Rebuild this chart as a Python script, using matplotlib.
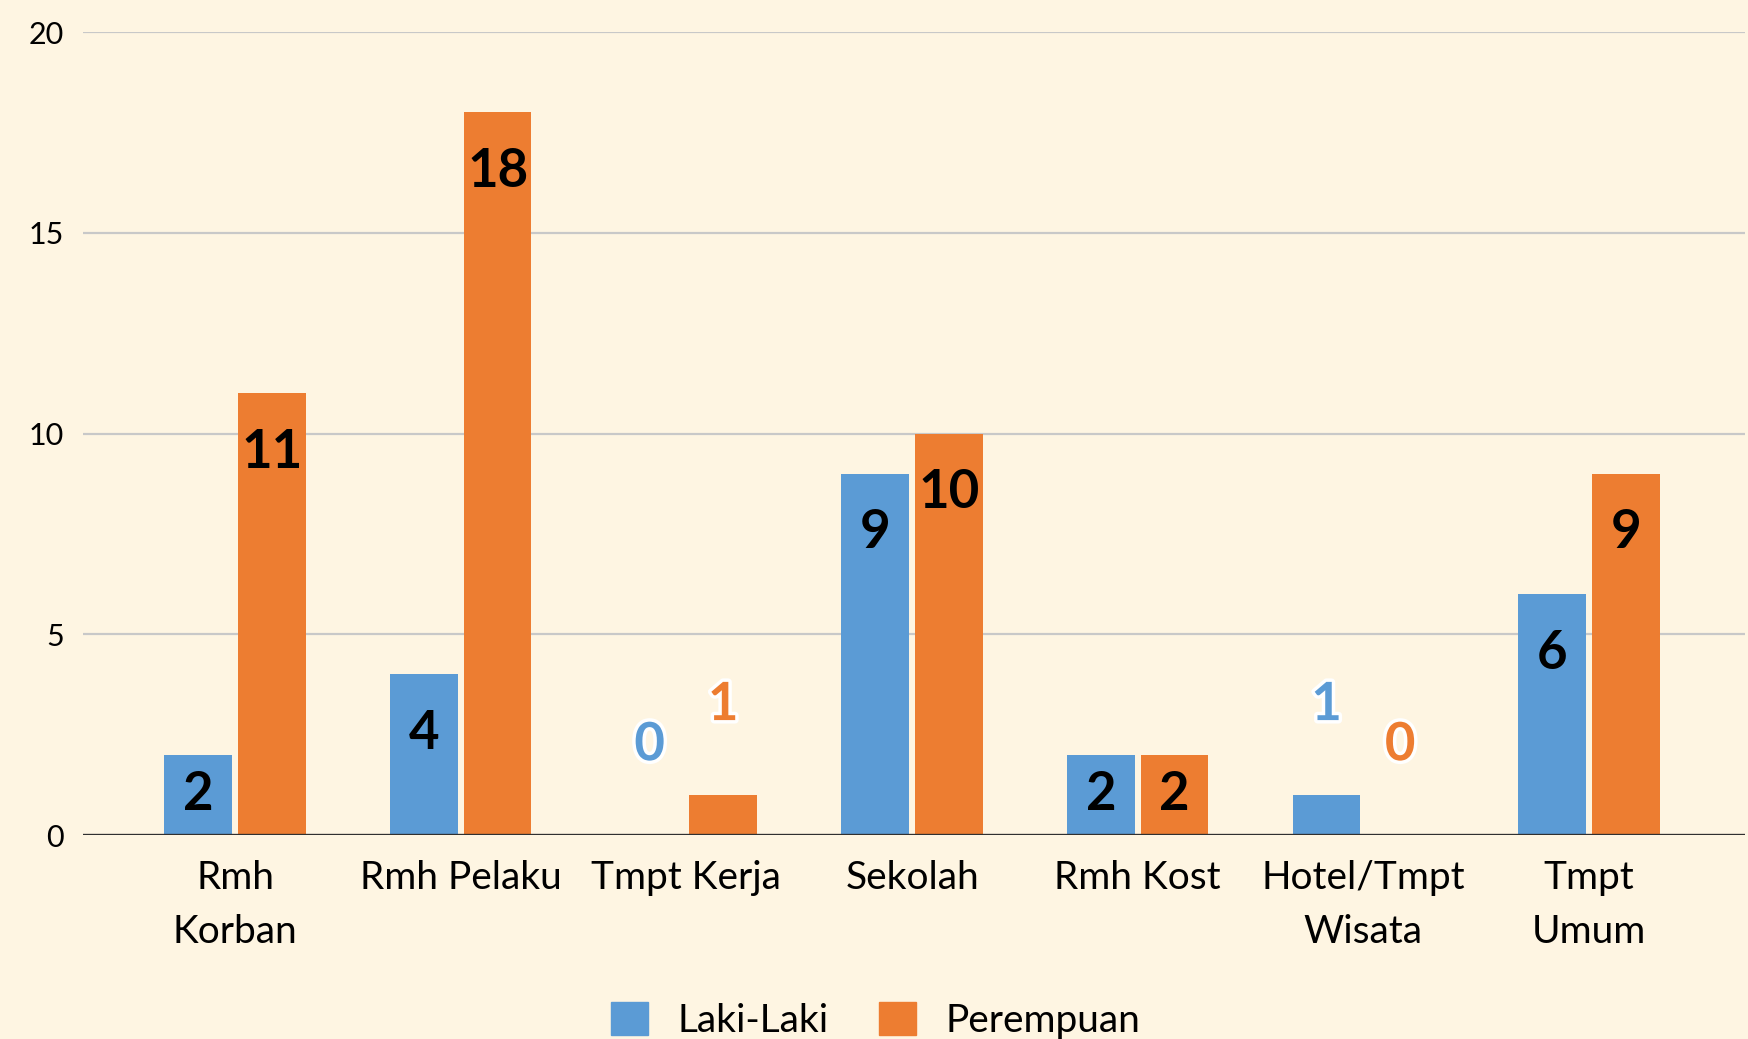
import matplotlib
matplotlib.use("Agg")
import matplotlib.pyplot as plt
import matplotlib.patheffects as pe
from matplotlib.patches import Patch
import numpy as np

categories = ["Rmh\nKorban", "Rmh Pelaku", "Tmpt Kerja", "Sekolah", "Rmh Kost", "Hotel/Tmpt\nWisata", "Tmpt\nUmum"]
laki = [2, 4, 0, 9, 2, 1, 6]
perempuan = [11, 18, 1, 10, 2, 0, 9]
series_names = ["Laki-Laki", "Perempuan"]
yticks = [0, 5, 10, 15, 20]

BG = "#FEF5E2"
BLUE = "#5B9BD5"
ORANGE = "#ED7D31"

plt.rcParams['font.family'] = ['Lato', 'DejaVu Sans']

fig = plt.figure(figsize=(17.48, 10.39), dpi=100, facecolor=BG)
ax = fig.add_axes([0.0475, 0.1963, 0.9505, 0.7727])
ax.set_facecolor(BG)

x = np.arange(len(categories))
w = 0.30
off = 0.163
bars_l = ax.bar(x - off, laki, width=w, color=BLUE, zorder=3)
bars_p = ax.bar(x + off, perempuan, width=w, color=ORANGE, zorder=3)

ax.set_ylim(0, 20)
ax.set_xlim(-0.674, 6.689)
ax.set_yticks(yticks)
ax.set_yticklabels([str(t) for t in yticks], fontsize=22)
ax.tick_params(axis='y', length=0, pad=14)
ax.set_xticks(x)
ax.set_xticklabels(categories, fontsize=28, linespacing=1.62)
ax.tick_params(axis='x', length=0, pad=18)
for t in ax.get_xticklabels():
    t.set_verticalalignment('top')

for yv in yticks[1:]:
    ax.axhline(yv, color="#C8C8C8", lw=1.6, zorder=1)
ax.axhline(0, color="#303030", lw=2.4, zorder=4)
for s in ax.spines.values():
    s.set_visible(False)

def label(xpos, v, color):
    if v >= 2:
        y = max(v - 1.47, v / 2)
        ax.text(xpos, y, str(v), ha='center', va='center', fontsize=38,
                fontweight='bold', color='black', zorder=5)
    else:
        y = v + 2.25
        ax.text(xpos, y, str(v), ha='center', va='center', fontsize=38,
                fontweight='bold', color=color, zorder=5,
                path_effects=[pe.withStroke(linewidth=5, foreground='white')])

for i in range(len(categories)):
    label(x[i] - off, laki[i], BLUE)
    label(x[i] + off, perempuan[i], ORANGE)

handles = [Patch(color=BLUE), Patch(color=ORANGE)]
fig.legend(handles, series_names, loc='center', bbox_to_anchor=(0.501, 0.018),
           ncol=2, frameon=False, fontsize=28, handlelength=0.95, handleheight=0.95,
           handletextpad=0.75, columnspacing=1.3)

fig.savefig("out.png", dpi=100, facecolor=BG)
